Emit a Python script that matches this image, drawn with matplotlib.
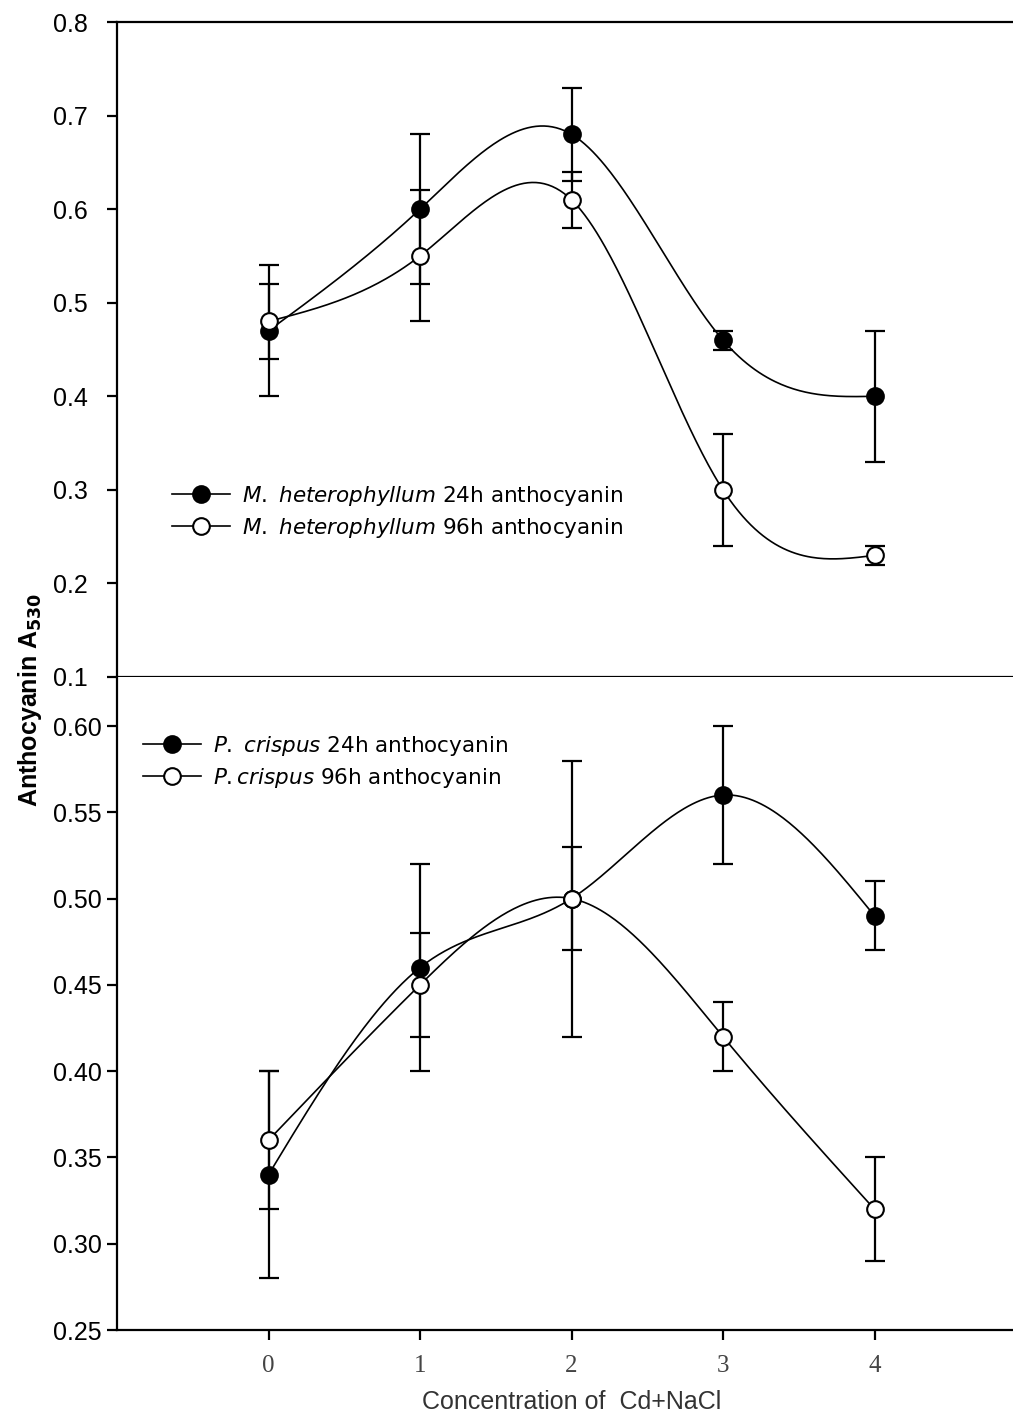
import matplotlib
matplotlib.use("Agg")
import matplotlib.pyplot as plt
from matplotlib.lines import Line2D
import numpy as np

plt.rcParams["font.family"] = ["Liberation Sans", "DejaVu Sans"]

# 数据 (x = Cd+NaCl 浓度)
conc = [0, 1, 2, 3, 4]

mh_24h = [0.47, 0.60, 0.68, 0.46, 0.40]
mh_24h_err = [0.07, 0.08, 0.05, 0.01, 0.07]
mh_96h = [0.48, 0.55, 0.61, 0.30, 0.23]
mh_96h_err = [0.04, 0.07, 0.03, 0.06, 0.01]

pc_24h = [0.34, 0.46, 0.50, 0.56, 0.49]
pc_24h_err = [0.06, 0.06, 0.08, 0.04, 0.02]
pc_96h = [0.36, 0.45, 0.50, 0.42, 0.32]
pc_96h_err = [0.04, 0.03, 0.03, 0.02, 0.03]

top_ticks = [0.1, 0.2, 0.3, 0.4, 0.5, 0.6, 0.7, 0.8]
bottom_ticks = [0.25, 0.30, 0.35, 0.40, 0.45, 0.50, 0.55, 0.60]

W, H = 1013, 1420


def natural_spline(x, y, xs):
    # 自然三次样条 (SigmaPlot 风格的平滑曲线)
    x = np.asarray(x, float)
    y = np.asarray(y, float)
    n = len(x)
    h = np.diff(x)
    A = np.zeros((n, n))
    b = np.zeros(n)
    A[0, 0] = A[-1, -1] = 1
    for i in range(1, n - 1):
        A[i, i - 1] = h[i - 1]
        A[i, i] = 2 * (h[i - 1] + h[i])
        A[i, i + 1] = h[i]
        b[i] = 3 * ((y[i + 1] - y[i]) / h[i] - (y[i] - y[i - 1]) / h[i - 1])
    c = np.linalg.solve(A, b)
    out = np.empty_like(xs)
    for k, xv in enumerate(xs):
        i = min(max(np.searchsorted(x, xv) - 1, 0), n - 2)
        dx = xv - x[i]
        bi = (y[i + 1] - y[i]) / h[i] - h[i] * (2 * c[i] + c[i + 1]) / 3
        di = (c[i + 1] - c[i]) / (3 * h[i])
        out[k] = y[i] + bi * dx + c[i] * dx ** 2 + di * dx ** 3
    return out


def draw_series(ax, y, err, filled):
    xs = np.linspace(conc[0], conc[-1], 300)
    ax.plot(xs, natural_spline(conc, y, xs), color='k', lw=1.2, zorder=2)
    ax.errorbar(conc, y, yerr=err, fmt='none', ecolor='k', elinewidth=1.6,
                capsize=7, capthick=1.6, zorder=1)
    ax.plot(conc, y, 'o', ms=12, mec='k', mew=1.5,
            mfc='k' if filled else 'white', zorder=3, clip_on=False)


def style_yaxis(ax, ticks, fmt):
    ax.set_yticks(ticks)
    ax.set_yticklabels([fmt % t for t in ticks])
    ax.tick_params(axis='y', direction='out', length=7.2, width=1.6,
                   labelsize=18, pad=39)
    for lbl in ax.get_yticklabels():
        lbl.set_horizontalalignment('left')
    ax.spines['left'].set_linewidth(1.6)


def legend(ax, labels, x0, y0):
    handles = [Line2D([], [], color='k', lw=1.2, marker='o', ms=12, mec='k',
                      mew=1.5, mfc='k'),
               Line2D([], [], color='k', lw=1.2, marker='o', ms=12, mec='k',
                      mew=1.5, mfc='white')]
    ax.legend(handles, labels, loc='upper left',
              bbox_to_anchor=(x0 / W, 1 - y0 / H),
              bbox_transform=ax.figure.transFigure, frameon=False,
              borderpad=0, borderaxespad=0, handlelength=2.7,
              handletextpad=0.55, labelspacing=0.35,
              prop={'family': 'DejaVu Sans', 'size': 15.5})


def main():
    fig = plt.figure(figsize=(W / 100, H / 100), dpi=100)
    xl = (-1.0, 5.0)
    left = 117 / W
    width = 909 / W

    # 上图 M. heterophyllum
    ax1 = fig.add_axes([left, 1 - 677 / H, width, 655 / H])
    draw_series(ax1, mh_24h, mh_24h_err, True)
    draw_series(ax1, mh_96h, mh_96h_err, False)
    ax1.set_xlim(*xl)
    ax1.set_ylim(0.1, 0.8)
    style_yaxis(ax1, top_ticks, '%.1f')
    ax1.set_xticks([])
    ax1.spines['right'].set_visible(False)
    ax1.spines['top'].set_linewidth(1.6)
    ax1.spines['bottom'].set_linewidth(1.6)
    legend(ax1, [r'$\it{M.}$ $\it{heterophyllum}$ 24h anthocyanin',
                 r'$\it{M.}$ $\it{heterophyllum}$ 96h anthocyanin'], 172, 484)

    # 下图 P. crispus
    ax2 = fig.add_axes([left, 1 - 1330 / H, width, 653 / H])
    draw_series(ax2, pc_24h, pc_24h_err, True)
    draw_series(ax2, pc_96h, pc_96h_err, False)
    ax2.set_xlim(*xl)
    ax2.set_ylim(0.25, 0.25 + 653 / 1725.7)
    style_yaxis(ax2, bottom_ticks, '%.2f')
    ax2.set_xticks(conc)
    ax2.set_xticklabels([str(c) for c in conc], family='Liberation Serif',
                        color='#444444', fontsize=18)
    ax2.tick_params(axis='x', direction='out', length=7.2, width=1.6, pad=11)
    ax2.spines['right'].set_visible(False)
    ax2.spines['top'].set_visible(False)
    ax2.spines['bottom'].set_linewidth(1.6)
    legend(ax2, [r'$\it{P.}$ $\it{crispus}$ 24h anthocyanin',
                 r'$\it{P.crispus}$ 96h anthocyanin'], 143, 734)

    fig.text(30 / W, 1 - 700 / H, r'Anthocyanin A$_{\mathbf{530}}$',
             rotation=90, ha='center', va='center', fontsize=18,
             fontweight='bold')
    fig.text(572 / W, 0.004, 'Concentration of  Cd+NaCl', ha='center',
             va='bottom', fontsize=18, color='#333333')

    fig.savefig('out.png', dpi=100)


if __name__ == '__main__':
    main()
